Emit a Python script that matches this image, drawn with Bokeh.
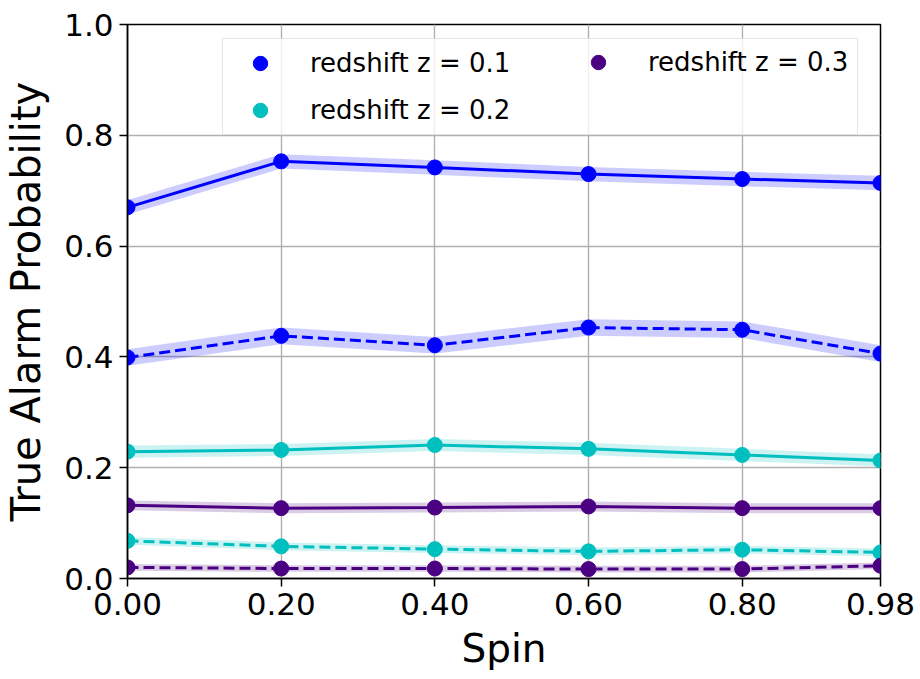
from bokeh.plotting import figure
from bokeh.models import Range1d, FixedTicker, Legend, LegendItem
from bokeh.embed import file_html
from bokeh.resources import INLINE

# Spin values and tick labels
spin = [0.0, 0.2, 0.4, 0.6, 0.8, 0.98]
spin_labels = ["0.00", "0.20", "0.40", "0.60", "0.80", "0.98"]
prob_ticks = [0.0, 0.2, 0.4, 0.6, 0.8, 1.0]
prob_labels = ["0.0", "0.2", "0.4", "0.6", "0.8", "1.0"]

# True alarm probability per redshift (solid / dashed curves)
z01_solid = [0.670, 0.753, 0.742, 0.730, 0.721, 0.714]
z01_dashed = [0.399, 0.438, 0.421, 0.453, 0.449, 0.406]
z02_solid = [0.229, 0.232, 0.241, 0.234, 0.223, 0.213]
z02_dashed = [0.068, 0.058, 0.053, 0.049, 0.052, 0.047]
z03_solid = [0.132, 0.127, 0.128, 0.130, 0.127, 0.127]
z03_dashed = [0.020, 0.018, 0.018, 0.017, 0.017, 0.023]

# Half-width of the uncertainty band around each curve
z01_solid_err = [0.013, 0.013, 0.013, 0.013, 0.013, 0.013]
z01_dashed_err = [0.015, 0.015, 0.015, 0.015, 0.015, 0.015]
z02_solid_err = [0.011, 0.011, 0.011, 0.011, 0.011, 0.011]
z02_dashed_err = [0.007, 0.007, 0.007, 0.007, 0.007, 0.007]
z03_solid_err = [0.009, 0.009, 0.009, 0.009, 0.009, 0.009]
z03_dashed_err = [0.006, 0.006, 0.006, 0.006, 0.006, 0.006]

BLUE = "#0000ff"
CYAN = "#00bfbf"
INDIGO = "#4b0082"
FONT = "DejaVu Sans"

p = figure(width=920, height=679, output_backend="svg", toolbar_location=None,
           x_range=Range1d(0, 0.98), y_range=Range1d(0, 1.0),
           min_border_left=127, min_border_right=40,
           min_border_top=24, min_border_bottom=101)

p.outline_line_color = "black"
p.outline_line_width = 1.5
p.background_fill_color = "white"
p.border_fill_color = "white"

for g in (p.xgrid, p.ygrid):
    g.grid_line_color = "#b0b0b0"
    g.grid_line_width = 1.4
p.xgrid.ticker = FixedTicker(ticks=spin)
p.ygrid.ticker = FixedTicker(ticks=prob_ticks)

p.xaxis.ticker = FixedTicker(ticks=spin)
p.xaxis.major_label_overrides = dict(zip(spin, spin_labels))
p.yaxis.ticker = FixedTicker(ticks=prob_ticks)
p.yaxis.major_label_overrides = dict(zip(prob_ticks, prob_labels))
p.xaxis.axis_label = "Spin"
p.yaxis.axis_label = "True Alarm Probability"

for ax in (p.xaxis, p.yaxis):
    ax.axis_line_color = "black"
    ax.axis_line_width = 1.5
    ax.major_tick_line_color = "black"
    ax.major_tick_line_width = 1.5
    ax.major_tick_out = 8
    ax.major_tick_in = 0
    ax.minor_tick_line_color = None
    ax.major_label_text_font = FONT
    ax.major_label_text_font_size = "31px"
    ax.major_label_text_color = "black"
    ax.axis_label_text_font = FONT
    ax.axis_label_text_font_style = "normal"
    ax.axis_label_text_color = "black"
    ax.major_label_standoff = 6
p.xaxis.axis_label_text_font_size = "39px"
p.yaxis.axis_label_text_font_size = "40px"
p.xaxis.axis_label_standoff = 8
p.yaxis.axis_label_standoff = 12

series = [
    (z01_solid, z01_solid_err, BLUE, "solid"),
    (z01_dashed, z01_dashed_err, BLUE, "dashed"),
    (z02_solid, z02_solid_err, CYAN, "solid"),
    (z02_dashed, z02_dashed_err, CYAN, "dashed"),
    (z03_solid, z03_solid_err, INDIGO, "solid"),
    (z03_dashed, z03_dashed_err, INDIGO, "dashed"),
]

# uncertainty bands first, then curves and markers
for vals, err, color, dash in series:
    lo = [v - e for v, e in zip(vals, err)]
    hi = [v + e for v, e in zip(vals, err)]
    p.varea(x=spin, y1=lo, y2=hi, fill_color=color, fill_alpha=0.2)

markers = []
for vals, err, color, dash in series:
    p.line(spin, vals, line_color=color, line_width=3,
           line_dash="solid" if dash == "solid" else "11 5")
    r = p.scatter(spin, vals, size=15, fill_color=color, line_color=color)
    markers.append(r)

legend_style = dict(
    label_text_font=FONT, label_text_font_size="26px", label_text_color="black",
    label_text_baseline="middle",
    glyph_width=62, glyph_height=36, label_standoff=19, spacing=11, padding=6,
    margin=0,
)

# left column carries the frame and background of the whole legend box;
# tuple locations give the bottom-left corner, measured from the frame's bottom-left
leg_a = Legend(items=[LegendItem(label="redshift z = 0.1", renderers=[markers[0]]),
                      LegendItem(label="redshift z = 0.2", renderers=[markers[2]])],
               location=(95, 443), label_width=541,
               border_line_color="#cccccc", border_line_width=1.5,
               background_fill_color="white", background_fill_alpha=0.8,
               **legend_style)
leg_b = Legend(items=[LegendItem(label="redshift z = 0.3", renderers=[markers[4]])],
               location=(440, 498),
               border_line_color=None, background_fill_alpha=0,
               **legend_style)
p.add_layout(leg_a, "center")
p.add_layout(leg_b, "center")

open("out.html", "w").write(file_html(p, INLINE))
